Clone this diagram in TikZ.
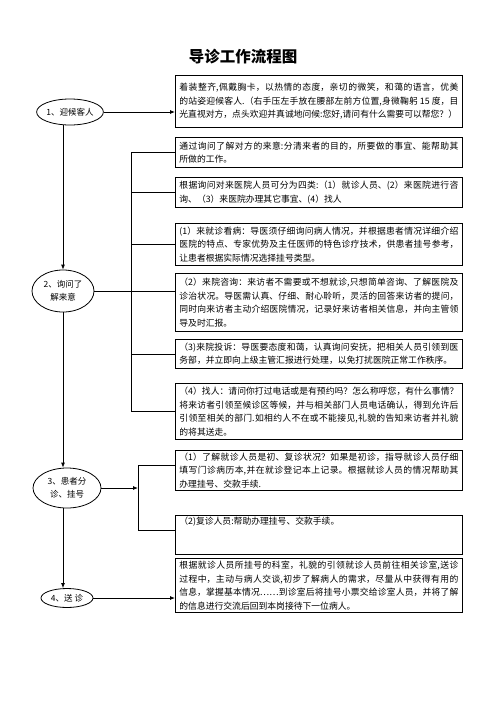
\documentclass[tikz,border=0pt]{standalone}
\usepackage{fontspec}
\setmainfont{Noto Sans CJK SC}
\XeTeXlinebreaklocale "zh"
\XeTeXlinebreakskip=0pt plus 1.5pt minus 0.5pt
\usetikzlibrary{shapes.geometric,arrows.meta}
\tikzset{
  x=1pt,y=-1pt,
  box/.style={draw, line width=0.8pt, anchor=north west, text width=279pt,
    inner xsep=4pt, inner ysep=2pt, align=justify,
    font=\fontsize{8.8}{13.5}\selectfont},
  ell/.style={draw, ellipse, line width=0.8pt, inner sep=0pt, align=center,
    font=\fontsize{8.5}{13}\selectfont},
  conn/.style={line width=0.8pt},
  arr/.style={line width=0.8pt, -{Latex[length=5pt,width=4pt]}},
}
\begin{document}
\begin{tikzpicture}
\fill[white] (0,0) rectangle (496,702);
\useasboundingbox (0,0) rectangle (496,702);

\node[font=\fontsize{15.5}{18}\selectfont\bfseries] (title) at (243,57) {导诊工作流程图};

\node[box,minimum height=52pt] (b1) at (175,75) {着装整齐,佩戴胸卡，以热情的态度，亲切的微笑，和蔼的语言，优美\linebreak 的站姿迎候客人.（右手压左手放在腰部左前方位置,身微鞠躬 15 度，目\linebreak 光直视对方，点头欢迎并真诚地问候:您好,请问有什么需要可以帮您？）};

\node[box,minimum height=30pt] (b2a) at (175,137) {通过询问了解对方的来意:分清来者的目的，所要做的事宜、能帮助其\linebreak 所做的工作。};

\node[box,minimum height=30pt] (b2b) at (175,177) {根据询问对来医院人员可分为四类:（1）就诊人员、(2）来医院进行咨\linebreak 询、（3）来医院办理其它事宜、(4）找人};

\node[box,minimum height=42pt] (b2c) at (175,223) {(1）来就诊看病：导医须仔细询问病人情况，并根据患者情况详细介绍\linebreak 医院的特点、专家优势及主任医师的特色诊疗技术，供患者挂号参考，\linebreak 让患者根据实际情况选择挂号类型。};

\node[box,minimum height=58pt] (b2d) at (175,273) {（2）来院咨询：来访者不需要或不想就诊,只想简单咨询、了解医院及\linebreak 诊治状况。导医需认真、仔细、耐心聆听，灵活的回答来访者的提问，\linebreak 同时向来访者主动介绍医院情况，记录好来访者相关信息，并向主管领\linebreak 导及时汇报。};

\node[box,minimum height=29pt] (b2e) at (175,339) {（3)来院投诉：导医要态度和蔼，认真询问安抚，把相关人员引领到医\linebreak 务部，并立即向上级主管汇报进行处理，以免打扰医院正常工作秩序。};

\node[box,minimum height=56pt] (b2f) at (175,383) {（4）找人：请问你打过电话或是有预约吗？怎么称呼您，有什么事情？\linebreak 将来访者引领至候诊区等候，并与相关部门人员电话确认，得到允许后\linebreak 引领至相关的部门.如相约人不在或不能接见,礼貌的告知来访者并礼貌\linebreak 的将其送走。};

\node[box,minimum height=40pt] (b3a) at (175,450) {（1）了解就诊人员是初、复诊状况？如果是初诊，指导就诊人员仔细\linebreak 填写门诊病历本,并在就诊登记本上记录。根据就诊人员的情况帮助其\linebreak 办理挂号、交款手续.};

\node[box,minimum height=38pt] (b3b) at (175,515) {（2)复诊人员:帮助办理挂号、交款手续。\par\mbox{}\par\mbox{}};

\node[box,minimum height=54pt] (b4) at (175,558) {根据就诊人员所挂号的科室，礼貌的引领就诊人员前往相关诊室,送诊\linebreak 过程中，主动与病人交谈,初步了解病人的需求，尽量从中获得有用的\linebreak 信息，掌握基本情况……到诊室后将挂号小票交给诊室人员，并将了解\linebreak 的信息进行交流后回到本岗接待下一位病人。};

\node[ell,minimum width=62pt,minimum height=26pt] (e1) at (70,112) {1、迎候客人};
\node[ell,minimum width=62pt,minimum height=42pt] (e2) at (63,291) {2、询问了\\解来意};
\node[ell,minimum width=68pt,minimum height=40pt] (e3) at (67,488) {3、患者分\\诊、挂号};
\node[ell,minimum width=52pt,minimum height=19pt] (e4) at (67,598) {4、送 诊};

\coordinate (vx) at (63,0);
\coordinate (k2) at (131,0);
\coordinate (k3) at (138,0);
\coordinate (k3t) at (138,465);
\coordinate (k3b) at (138,530);

% main flow
\draw[arr] (e1.south -| vx) -- (e2.north);
\draw[arr] (e2.south) -- (e2.south |- e3.north);
\draw[arr] (e3.south -| vx) -- (vx |- e4.north);

% step 1
\draw[arr] (e1.east) -- (e1.east -| b1.west);

% step 2 bracket
\draw[conn] (b2a.west -| k2) -- (b2f.west -| k2);
\foreach \b in {b2a,b2b,b2c,b2e,b2f}
  \draw[conn] (\b.west -| k2) -- (\b.west);
\draw[conn] (e2.east) -- (e2.east -| b2d.west);

% step 3 bracket
\draw[arr] (e3.east) -- (e3.east -| k3);
\draw[conn] (k3t) -- (k3b);
\draw[conn] (k3t) -- (k3t -| b3a.west);
\draw[conn] (k3b) -- (k3b -| b3b.west);

% step 4
\draw[arr] (e4.east) -- (e4.east -| b4.west);
\end{tikzpicture}
\end{document}
